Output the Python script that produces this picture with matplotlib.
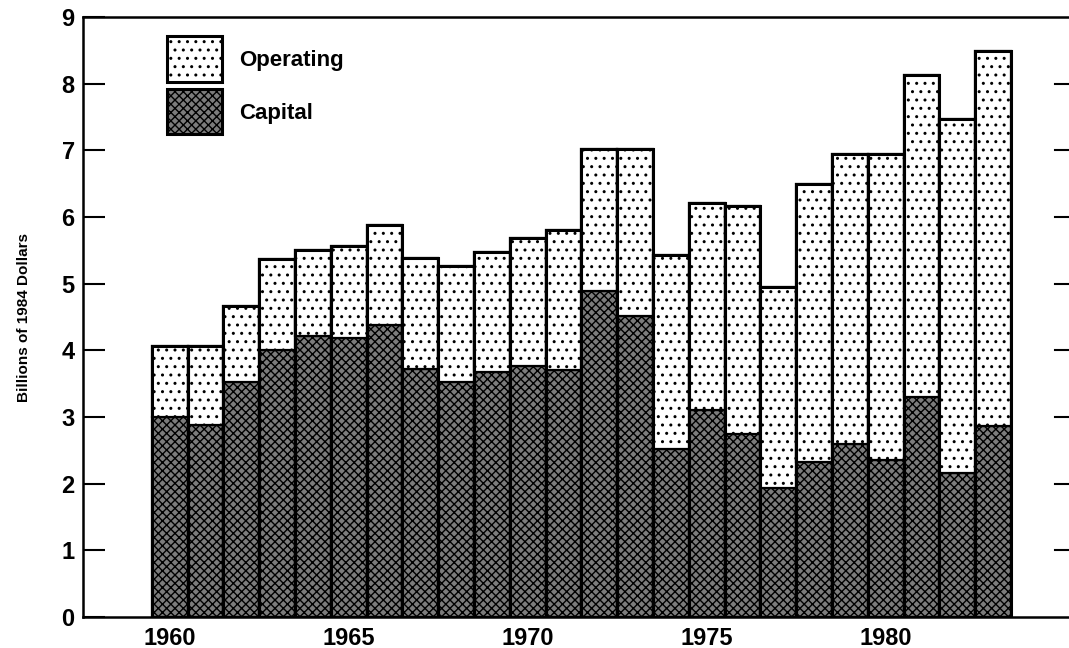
import matplotlib
matplotlib.use("Agg")
import matplotlib.pyplot as plt
from matplotlib.patches import Patch
import numpy as np

years = list(range(1960, 1984))
capital = [3.00, 2.88, 3.52, 4.00, 4.22, 4.18, 4.38, 3.72, 3.53, 3.67, 3.77, 3.70,
           4.89, 4.52, 2.52, 3.10, 2.74, 1.93, 2.33, 2.59, 2.35, 3.30, 2.16, 2.86]
total = [4.07, 4.06, 4.67, 5.37, 5.50, 5.57, 5.88, 5.39, 5.27, 5.47, 5.68, 5.80,
         7.02, 7.02, 5.43, 6.21, 6.17, 4.95, 6.50, 6.94, 6.94, 8.13, 7.47, 8.49]
operating = [t - c for t, c in zip(total, capital)]
xtick_years = [1960, 1965, 1970, 1975, 1980]
yticks = list(range(0, 10))

FONT = ['Liberation Sans', 'DejaVu Sans']
plt.rcParams['font.family'] = FONT
plt.rcParams['font.weight'] = 'bold'
plt.rcParams['hatch.linewidth'] = 1.0
plt.rcParams['hatch.color'] = 'black'

fig = plt.figure(figsize=(10.69, 6.48), dpi=100)
ax = fig.add_axes([83 / 1069, 1 - 617 / 648, 1 - 83 / 1069, 600 / 648])

cap_kw = dict(facecolor='#7c7c7c', hatch='xxxx', edgecolor='black', linewidth=1.6)
op_kw = dict(facecolor='white', hatch='..', edgecolor='black', linewidth=1.6)

ax.bar(years, capital, width=1.0, **cap_kw)
ax.bar(years, operating, bottom=capital, width=1.0, **op_kw)
# outline tops thicker
ax.bar(years, total, width=1.0, facecolor='none', edgecolor='black', linewidth=2.2)

ax.set_xlim(1957.58, 1985.12)
ax.set_ylim(0, 9)
ax.set_xticks(xtick_years)
ax.set_xticklabels([str(y) for y in xtick_years], fontsize=17, fontweight='bold')
ax.set_yticks(yticks)
ax.set_yticklabels([str(v) for v in yticks], fontsize=17, fontweight='bold')

ax.tick_params(axis='x', length=0, pad=7)
ax.tick_params(axis='y', direction='in', length=16, width=1.5, pad=6, left=True, right=False)
for v in yticks[1:-1]:
    ax.plot([1 - 14 / 986, 1], [v, v], transform=ax.get_yaxis_transform(),
            color='black', linewidth=1.5, clip_on=False)

for s in ['left', 'bottom', 'top']:
    ax.spines[s].set_linewidth(1.8)
ax.spines['right'].set_visible(False)

ax.set_ylabel('Billions of 1984 Dollars', fontsize=11, fontweight='bold', labelpad=22)

handles = [Patch(**op_kw, label='Operating'), Patch(**cap_kw, label='Capital')]
for h in handles:
    h.set_linewidth(2.2)
leg = ax.legend(handles=handles, loc='upper left', bbox_to_anchor=(0.072, 0.99),
                frameon=False, fontsize=16, handlelength=2.45, handleheight=2.75,
                labelspacing=0.35, handletextpad=0.8, borderaxespad=0.2)
for t in leg.get_texts():
    t.set_fontweight('bold')

fig.savefig('out.png', dpi=100)
